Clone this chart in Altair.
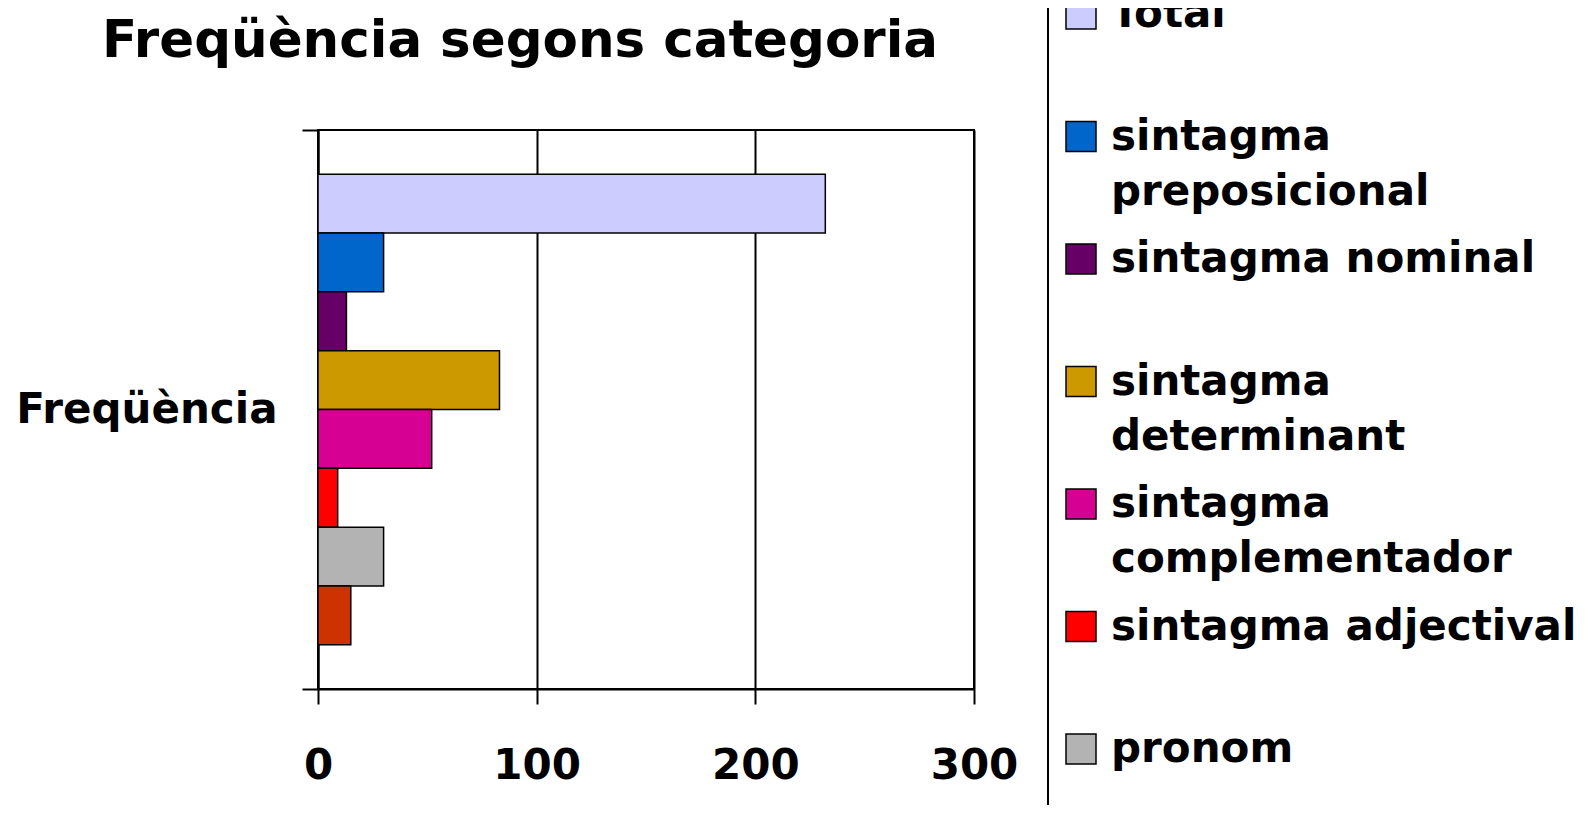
import altair as alt
import pandas as pd

# ---- data ----
categoria = "Freqüència"
series = [
    "Total",
    "sintagma preposicional",
    "sintagma nominal",
    "sintagma determinant",
    "sintagma complementador",
    "sintagma adjectival",
    "pronom",
    "sintagma adverbial",
]
valors = [232, 30, 13, 83, 52, 9, 30, 15]
colors = ["#CCCCFF", "#0066CC", "#660066", "#CC9900", "#D60093", "#FF0000", "#B3B3B3", "#CC3300"]
x_ticks = [0, 100, 200, 300]
title_text = "Freqüència segons categoria"

df = pd.DataFrame({"categoria": [categoria] * len(series), "serie": series, "valor": valors})

FONT = "DejaVu Sans"
FS = 42

chart = alt.Chart(df).mark_bar(stroke="black", strokeWidth=1.5).encode(
    x=alt.X(
        "valor:Q",
        scale=alt.Scale(domain=[0, 300], nice=False),
        axis=alt.Axis(
            values=x_ticks, title=None, grid=True, gridColor="black", gridWidth=2,
            tickSize=15, tickColor="black", tickWidth=2,
            domainColor="black", domainWidth=2,
            labelFontSize=FS, labelFont=FONT, labelFontWeight="bold", labelColor="black",
            labelPadding=41, labelFlush=False, labelOverlap=False,
        ),
    ),
    y=alt.Y(
        "categoria:N",
        scale=alt.Scale(paddingInner=0, paddingOuter=0),
        axis=alt.Axis(
            title=None, tickBand="extent", tickSize=16, tickColor="black", tickWidth=2,
            domainColor="black", domainWidth=2, grid=False,
            labelFontSize=FS, labelFont=FONT, labelFontWeight="bold", labelColor="black",
            labelPadding=25, labelLimit=500,
        ),
    ),
    yOffset=alt.YOffset("serie:N", sort=series, scale=alt.Scale(paddingOuter=0.75, paddingInner=0)),
    color=alt.Color(
        "serie:N",
        sort=series,
        scale=alt.Scale(domain=series, range=colors),
        legend=alt.Legend(
            title=None, orient="none", legendX=730, legendY=-149,
            padding=12, rowPadding=25.5, symbolType="square", symbolSize=900,
            symbolStrokeColor="black", symbolStrokeWidth=1.5,
            labelFontSize=FS, labelFont=FONT, labelFontWeight="bold", labelColor="black",
            labelLimit=800, labelOffset=9, labelBaseline="middle",
            labelExpr="length(datum.label) > 19 ? split(datum.label, ' ') : [datum.label, ' ']",
            strokeColor="black", fillColor="white",
        ),
    ),
).properties(
    width=656,
    height=559,
    title=alt.TitleParams(
        title_text, fontSize=51.5, font=FONT, fontWeight="bold", color="black",
        anchor="middle", frame="group", dx=-126, baseline="alphabetic", offset=-128,
    ),
    autosize=alt.AutoSizeParams(type="none"),
    padding={"left": 310, "top": 122, "right": 606, "bottom": 116},
).configure(
    style={"guide-label": {"lineHeight": 55}}
).configure_view(
    stroke="black", strokeWidth=2
).configure_legend(
    strokeWidth=2
)

chart.save("out.html", embed_options={"renderer": "svg", "actions": False})
